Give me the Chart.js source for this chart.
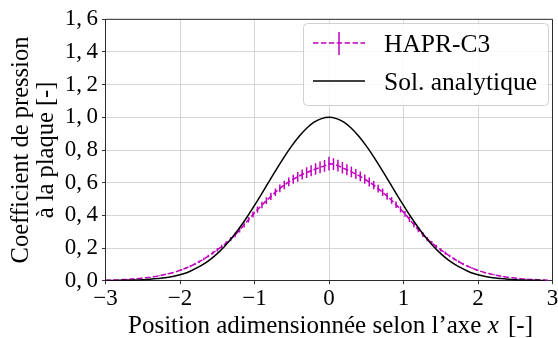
<!DOCTYPE html>
<html><head><meta charset="utf-8">
<script src="https://cdn.jsdelivr.net/npm/chart.js@4"></script>
<style>html,body{margin:0;padding:0;background:#fff}#wrap{width:558px;height:338px}</style>
</head><body><div id="wrap"><canvas id="c" width="558" height="338"></canvas></div>
<script>
// ---- data ----
const hapX = [-3.00,-2.94,-2.88,-2.82,-2.76,-2.70,-2.64,-2.58,-2.52,-2.46,-2.40,-2.34,-2.28,-2.22,-2.16,-2.10,-2.04,-1.98,-1.92,-1.86,-1.80,-1.74,-1.68,-1.62,-1.56,-1.50,-1.44,-1.38,-1.32,-1.26,-1.20,-1.14,-1.08,-1.02,-0.96,-0.90,-0.84,-0.78,-0.72,-0.66,-0.60,-0.54,-0.48,-0.42,-0.36,-0.30,-0.24,-0.18,-0.12,-0.06,0.00,0.06,0.12,0.18,0.24,0.30,0.36,0.42,0.48,0.54,0.60,0.66,0.72,0.78,0.84,0.90,0.96,1.02,1.08,1.14,1.20,1.26,1.32,1.38,1.44,1.50,1.56,1.62,1.68,1.74,1.80,1.86,1.92,1.98,2.04,2.10,2.16,2.22,2.28,2.34,2.40,2.46,2.52,2.58,2.64,2.70,2.76,2.82,2.88,2.94];
const hapY = [0.002,0.003,0.004,0.005,0.007,0.008,0.010,0.012,0.015,0.018,0.021,0.025,0.030,0.036,0.042,0.049,0.057,0.066,0.077,0.089,0.102,0.117,0.133,0.151,0.170,0.189,0.209,0.230,0.254,0.280,0.310,0.341,0.373,0.405,0.435,0.463,0.490,0.516,0.541,0.565,0.586,0.605,0.621,0.636,0.650,0.662,0.673,0.684,0.693,0.703,
  0.716,
  0.714,0.704,0.691,0.679,0.666,0.653,0.638,0.622,0.604,0.585,0.564,0.541,0.517,0.492,0.465,0.437,0.409,0.376,0.343,0.311,0.282,0.255,0.231,0.209,0.189,0.170,0.151,0.133,0.117,0.102,0.089,0.077,0.066,0.057,0.049,0.042,0.036,0.030,0.025,0.021,0.018,0.015,0.012,0.010,0.008,0.007,0.005,0.004,0.003];
const hapErr = [0.001,0.001,0.001,0.001,0.001,0.002,0.002,0.002,0.002,0.002,0.002,0.003,0.003,0.003,0.003,0.004,0.004,0.005,0.005,0.006,0.006,0.007,0.008,0.008,0.009,0.010,0.011,0.012,0.013,0.014,0.015,0.016,0.017,0.018,0.019,0.020,0.021,0.022,0.023,0.024,0.026,0.027,0.028,0.030,0.031,0.033,0.034,0.035,0.036,0.036,
  0.042,
  0.036,0.036,0.035,0.034,0.033,0.031,0.030,0.028,0.027,0.026,0.024,0.023,0.022,0.021,0.020,0.019,0.018,0.017,0.016,0.015,0.014,0.013,0.012,0.011,0.010,0.009,0.008,0.008,0.007,0.006,0.006,0.005,0.005,0.004,0.004,0.003,0.003,0.003,0.003,0.002,0.002,0.002,0.002,0.002,0.002,0.001,0.001,0.001,0.001];
const solX = [-3.0,-2.9,-2.8,-2.7,-2.6,-2.5,-2.4,-2.3,-2.2,-2.1,-2.0,-1.9,-1.8,-1.7,-1.6,-1.5,-1.4,-1.3,-1.2,-1.1,-1.0,-0.9,-0.8,-0.7,-0.6,-0.5,-0.4,-0.3,-0.2,-0.1,0.0,0.1,0.2,0.3,0.4,0.5,0.6,0.7,0.8,0.9,1.0,1.1,1.2,1.3,1.4,1.5,1.6,1.7,1.8,1.9,2.0,2.1,2.2,2.3,2.4,2.5,2.6,2.7,2.8,2.9];
const solY = [0.001,0.001,0.002,0.003,0.004,0.006,0.009,0.013,0.018,0.026,0.036,0.050,0.072,0.097,0.128,0.166,0.211,0.264,0.324,0.390,0.461,0.535,0.611,0.686,0.758,0.825,0.884,0.933,0.970,0.992,
  1.000,
  0.992,0.970,0.933,0.884,0.825,0.758,0.686,0.611,0.535,0.461,0.390,0.324,0.264,0.211,0.166,0.128,0.097,0.072,0.050,0.036,0.026,0.018,0.013,0.009,0.006,0.004,0.003,0.002,0.001];
const xTicks = [-3,-2,-1,0,1,2,3];
const yTicks = [0,0.2,0.4,0.6,0.8,1.0,1.2,1.4,1.6];
const seriesNames = ['HAPR-C3','Sol. analytique'];
const xTitleParts = ['Position adimensionnée selon l’axe ','x',' [-]'];
const yTitleLines = ['Coefficient de pression','à la plaque [-]'];

// ---- style ----
const FONT = "'Liberation Serif', 'Times New Roman', serif";
const MAG = '#bf00bf';
const GRID = '#cbcbcb';

const errorBars = {
  id: 'errorBars',
  afterDatasetDraw(chart, args) {
    if (args.index !== 0) return;
    const ctx = chart.ctx, xs = chart.scales.x, ys = chart.scales.y, a = chart.chartArea;
    ctx.save();
    ctx.beginPath(); ctx.rect(a.left, a.top, a.right - a.left, a.bottom - a.top); ctx.clip();
    ctx.strokeStyle = MAG; ctx.lineWidth = 1.5;
    ctx.beginPath();
    for (let i = 0; i < hapX.length; i++) {
      const px = xs.getPixelForValue(hapX[i]);
      ctx.moveTo(px, ys.getPixelForValue(hapY[i] - hapErr[i]));
      ctx.lineTo(px, ys.getPixelForValue(hapY[i] + hapErr[i]));
    }
    ctx.stroke();
    ctx.restore();
  }
};

const decor = {
  id: 'decor',
  afterDraw(chart) {
    const ctx = chart.ctx, a = chart.chartArea;
    ctx.save();
    // top & right spines
    ctx.strokeStyle = '#000'; ctx.lineWidth = 0.8;
    ctx.beginPath();
    ctx.moveTo(a.left, a.top); ctx.lineTo(a.right, a.top); ctx.lineTo(a.right, a.bottom);
    ctx.stroke();
    // x title with italic x
    ctx.fillStyle = '#000'; ctx.textBaseline = 'alphabetic';
    const fN = '25px ' + FONT, fI = 'italic 25px ' + FONT;
    ctx.font = fN; const w0 = ctx.measureText(xTitleParts[0]).width, w2 = ctx.measureText(xTitleParts[2]).width;
    ctx.font = fI; const w1 = ctx.measureText(xTitleParts[1]).width;
    let x0 = (a.left + a.right) / 2 - (w0 + w1 + w2) / 2;
    const by = 333;
    ctx.textAlign = 'left';
    ctx.font = fN; ctx.fillText(xTitleParts[0], x0, by);
    ctx.font = fI; ctx.fillText(xTitleParts[1], x0 + w0, by);
    ctx.font = fN; ctx.fillText(xTitleParts[2], x0 + w0 + w1 + 3, by);
    // y title (two lines, rotated)
    const fY = '24.5px ' + FONT;
    ctx.save();
    ctx.translate(0, (a.top + a.bottom) / 2);
    ctx.rotate(-Math.PI / 2);
    ctx.textAlign = 'center'; ctx.font = fY;
    ctx.fillText(yTitleLines[0], 0, 28);
    ctx.fillText(yTitleLines[1], 0, 53);
    ctx.restore();
    // legend
    const lx = 303.5, ly = 23.5, lw = 245, lh = 82;
    ctx.beginPath(); ctx.roundRect(lx, ly, lw, lh, 4);
    ctx.fillStyle = 'rgba(255,255,255,0.85)'; ctx.fill();
    ctx.strokeStyle = '#d0d0d0'; ctx.lineWidth = 1; ctx.stroke();
    // row 1
    ctx.strokeStyle = MAG; ctx.lineWidth = 1.5; ctx.setLineDash([5.5, 2.4]);
    ctx.beginPath(); ctx.moveTo(313, 43); ctx.lineTo(365, 43); ctx.stroke();
    ctx.setLineDash([]);
    ctx.beginPath(); ctx.moveTo(339, 32); ctx.lineTo(339, 55); ctx.stroke();
    // row 2
    ctx.strokeStyle = '#000'; ctx.lineWidth = 1.5;
    ctx.beginPath(); ctx.moveTo(313, 81); ctx.lineTo(365, 81); ctx.stroke();
    ctx.fillStyle = '#000'; ctx.font = '25.5px ' + FONT; ctx.textAlign = 'left';
    ctx.fillText(seriesNames[0], 384, 52);
    ctx.fillText(seriesNames[1], 384, 89.5);
    ctx.restore();
  }
};

new Chart(document.getElementById('c'), {
  type: 'line',
  data: {
    datasets: [
      { label: seriesNames[0], data: hapX.map((x, i) => ({x, y: hapY[i]})), borderColor: MAG, borderWidth: 1.5,
        borderDash: [5.5, 2.4], pointRadius: 0, fill: false, tension: 0, order: 1 },
      { label: seriesNames[1], data: solX.map((x, i) => ({x, y: solY[i]})), borderColor: '#000', borderWidth: 1.5,
        pointRadius: 0, fill: false, cubicInterpolationMode: 'monotone', order: 0 }
    ]
  },
  options: {
    responsive: false, animation: false, devicePixelRatio: 1,
    layout: { padding: { top: 19.3, right: 5.5, left: 0, bottom: 0 } },
    plugins: { legend: { display: false }, tooltip: { enabled: false } },
    scales: {
      x: {
        type: 'linear', min: -3, max: 3,
        afterBuildTicks: s => { s.ticks = xTicks.map(v => ({ value: v })); },
        afterFit: s => { s.height = 57.3; s.paddingLeft = 0; s.paddingRight = 0; },
        ticks: { color: '#000', font: { family: FONT, size: 23 }, padding: 1, maxRotation: 0,
          callback: v => v < 0 ? '−' + Math.abs(v) : String(v) },
        grid: { color: GRID, lineWidth: 0.8, tickLength: 3.5, tickColor: '#000', tickWidth: 0.8 },
        border: { color: '#000', width: 0.8 },
        title: { display: false }
      },
      y: {
        min: 0, max: 1.6,
        afterBuildTicks: s => { s.ticks = yTicks.map(v => ({ value: v })); },
        afterFit: s => { s.width = 105.5; },
        ticks: { color: '#000', font: { family: FONT, size: 23 }, padding: 4,
          callback: v => v.toFixed(1).replace('.', ',\u2009') },
        grid: { color: GRID, lineWidth: 0.8, tickLength: 3.5, tickColor: '#000', tickWidth: 0.8 },
        border: { color: '#000', width: 0.8 },
        title: { display: false }
      }
    }
  },
  plugins: [errorBars, decor]
});
</script>
</body></html>
